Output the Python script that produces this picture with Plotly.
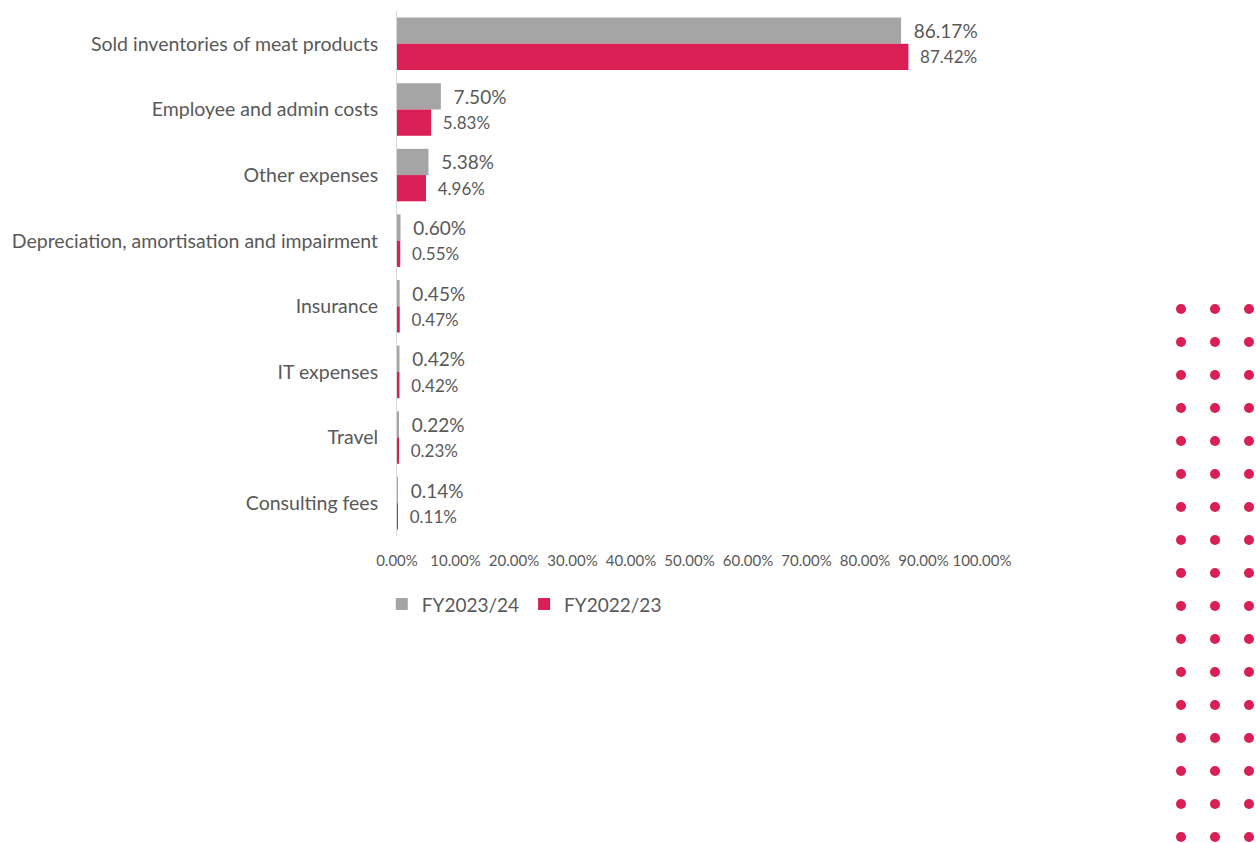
import plotly.graph_objects as go

categories = ["Sold inventories of meat products", "Employee and admin costs", "Other expenses",
              "Depreciation, amortisation and impairment", "Insurance", "IT expenses", "Travel",
              "Consulting fees"]
fy2324 = [86.17, 7.50, 5.38, 0.60, 0.45, 0.42, 0.22, 0.14]
fy2223 = [87.42, 5.83, 4.96, 0.55, 0.47, 0.42, 0.23, 0.11]
tick_vals = [0, 10, 20, 30, 40, 50, 60, 70, 80, 90, 100]
tick_text = ["0.00%", "10.00%", "20.00%", "30.00%", "40.00%", "50.00%", "60.00%", "70.00%",
             "80.00%", "90.00%", "100.00%"]

FONT = "Lato"
GRAY = "#A5A5A5"
PINK = "#DA1F55"
TXT = "#595959"

W, H = 1256, 843
L, R, T, B = 397, 274, 11, 307
pw, ph = W - L - R, H - T - B

fig = go.Figure()
fig.add_trace(go.Bar(
    y=categories, x=fy2324, orientation="h", name="FY2023/24",
    marker=dict(color=GRAY, line=dict(width=0)),
    text=["  %.2f%%" % v for v in fy2324], textposition="outside",
    textfont=dict(size=19, color=TXT, family=FONT), cliponaxis=False,
))
fig.add_trace(go.Bar(
    y=categories, x=fy2223, orientation="h", name="FY2022/23",
    marker=dict(color=PINK, line=dict(width=0)),
    text=["  %.2f%%" % v for v in fy2223], textposition="outside",
    textfont=dict(size=17, color=TXT, family=FONT), cliponaxis=False,
))

# decorative dot grid
shapes = []
for cx in [1181, 1215, 1249]:
    for r in range(17):
        cy = 309 + r * 33
        xp = (cx - L) / pw
        yp = 1 - (cy - T) / ph
        shapes.append(dict(type="circle", xref="paper", yref="paper", xsizemode="pixel",
                           ysizemode="pixel", xanchor=xp, yanchor=yp, x0=-5, x1=5, y0=-5, y1=5,
                           fillcolor=PINK, line=dict(width=0), layer="above"))

fig.update_layout(
    width=W, height=H,
    margin=dict(l=L, r=R, t=T, b=B),
    paper_bgcolor="white", plot_bgcolor="white",
    barmode="group", bargap=0.2, bargroupgap=0,
    font=dict(family=FONT, color=TXT),
    showlegend=True,
    legend=dict(orientation="h", x=-0.026, xanchor="left", y=-0.13, yanchor="middle",
                font=dict(size=19, color=TXT, family=FONT), traceorder="normal",
                itemwidth=30),
    xaxis=dict(range=[0, 100], tickvals=tick_vals, ticktext=tick_text, showgrid=False,
               zeroline=False, showline=False, ticks="", ticklabelstandoff=14, tickangle=0,
               tickfont=dict(size=15, color=TXT, family=FONT)),
    yaxis=dict(autorange="reversed", showgrid=False, zeroline=False, showline=True,
               linecolor="#D9D9D9", linewidth=1, ticks="", ticklabelstandoff=14,
               tickfont=dict(size=19.5, color=TXT, family=FONT)),
    shapes=shapes,
)

fig.write_html("out.html")
